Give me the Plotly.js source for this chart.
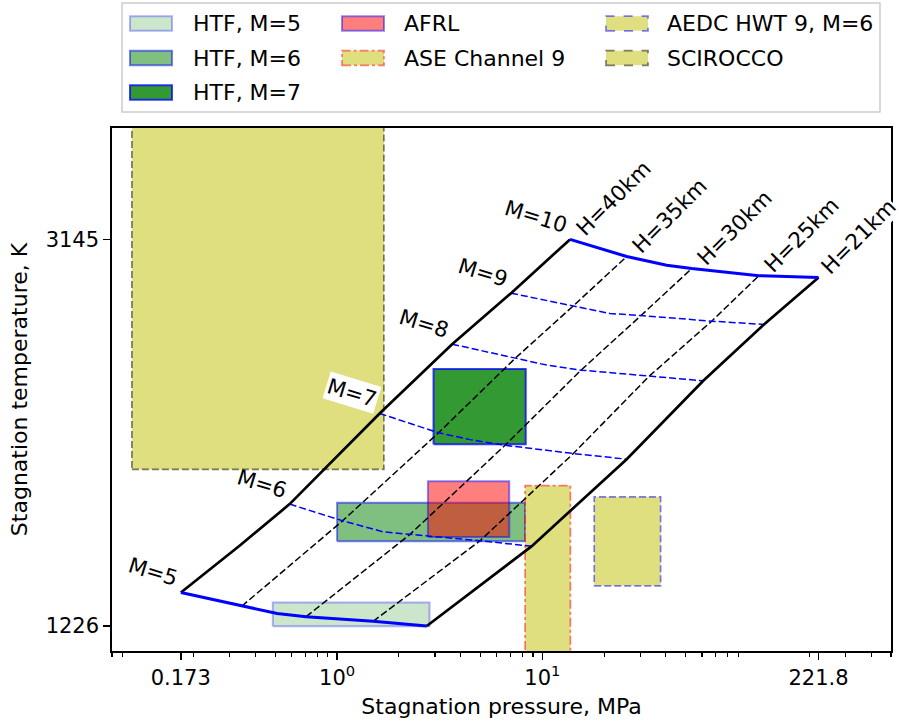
<!DOCTYPE html>
<html><head><meta charset="utf-8">
<script src="https://cdn.plot.ly/plotly-3.0.1.min.js"></script>
<style>html,body{margin:0;padding:0;background:#fff;} #chart{width:899px;height:723px;}</style>
</head><body><div id="chart"></div>
<script>
// ---------- DATA (stagnation pressure in MPa, stagnation temperature in K) ----------
// Altitude lines (points at M=5 ... M=10; boundary lines also carry an M=5.5 point)
const pressH40 = [0.1733, 0.337, 0.587, 1.611, 3.633, 7.04, 13.64];
const tempH40  = [1392, 1627, 1831, 2281, 2625, 2878, 3145];
const pressH35 = [0.343, 1.064, 3.121, 7.362, 14.16, 25.77];
const tempH35  = [1324, 1748, 2185, 2554, 2815, 3060];
const pressH30 = [0.706, 2.268, 6.58, 15.44, 30.26, 53.43];
const tempH30  = [1272, 1681, 2123, 2496, 2767, 3000];
const pressH25 = [1.497, 4.971, 14.16, 33.10, 66.87, 113.6];
const tempH25  = [1249, 1649, 2082, 2465, 2739, 2965];
const pressH21 = [2.735, 5.159, 8.88, 25.77, 60.84, 120.2, 221.8];
const tempH21  = [1226, 1437, 1622, 2054, 2443, 2723, 2956];

// Mach lines (points at H=40, 35, 32, 30, 25, 21 km)
const pressM5  = [0.1733, 0.343, 0.510, 0.706, 1.497, 2.735];
const tempM5   = [1392, 1324, 1288, 1272, 1249, 1226];
const pressM6  = [0.587, 1.064, 1.681, 2.268, 4.971, 8.88];
const tempM6   = [1831, 1748, 1693, 1681, 1649, 1622];
const pressM7  = [1.611, 3.121, 4.444, 6.58, 14.16, 25.77];
const tempM7   = [2281, 2185, 2151, 2123, 2082, 2054];
const pressM8  = [3.633, 7.362, 10.50, 15.44, 33.10, 60.84];
const tempM8   = [2625, 2554, 2521, 2496, 2465, 2443];
const pressM9  = [7.04, 14.16, 21.37, 30.26, 66.87, 120.2];
const tempM9   = [2878, 2815, 2777, 2767, 2739, 2723];
const pressM10 = [13.64, 25.77, 40.36, 53.43, 113.6, 221.8];
const tempM10  = [3145, 3060, 3017, 3000, 2965, 2956];

const machLabels = ['M=5', 'M=6', 'M=7', 'M=8', 'M=9', 'M=10'];
const altLabels  = ['H=40km', 'H=35km', 'H=30km', 'H=25km', 'H=21km'];

// Facility envelopes: [pMin, pMax], [TMin, TMax]
const facilityNames = ['HTF, M=5', 'HTF, M=6', 'HTF, M=7', 'AFRL', 'ASE Channel 9', 'AEDC HWT 9, M=6', 'SCIROCCO'];
const htf5P = [0.486, 2.82],  htf5T = [1225, 1342];
const htf6P = [1.0, 8.24],    htf6T = [1647, 1838];
const htf7P = [2.95, 8.3],    htf7T = [2128, 2501];
const afrlP = [2.77, 6.9],    afrlT = [1668, 1945];
const aseP  = [8.24, 13.7],   aseT  = [1000, 1923];
const aedcP = [17.9, 37.7],   aedcT = [1425, 1867];
const sciP  = [0.1, 1.69],    sciT  = [2003, 4000];

const xTickVals = [0.173, 1, 10, 221.8];
const xTickText = ['0.173', '10<sup>0</sup>', '10<sup>1</sup>', '221.8'];
const xMinorVals = [0.08,0.09,0.2,0.3,0.4,0.5,0.6,0.7,0.8,0.9,2,3,4,5,6,7,8,9,20,30,40,50,60,70,80,90,200,300,400,500];
const yTickVals = [1226, 3145];

// ---------- STYLES ----------
const OLIVE = 'rgba(191,191,0,0.5)';
const DASH = '7px,3px';
const facilityStyles = [
  {fill:'rgba(0,128,0,0.2)', line:'rgba(0,0,255,0.3)', dash:'solid', w:2},
  {fill:'rgba(0,128,0,0.5)', line:'rgba(0,0,255,0.5)', dash:'solid', w:2},
  {fill:'rgba(0,128,0,0.8)', line:'rgba(0,0,255,0.75)', dash:'solid', w:2},
  {fill:'rgba(255,0,0,0.5)', line:'rgba(0,0,255,0.45)', dash:'solid', w:2},
  {fill:OLIVE, line:'rgba(255,0,0,0.5)', dash:'dashdot', w:1.7},
  {fill:OLIVE, line:'rgba(0,0,255,0.5)', dash:DASH, w:1.7},
  {fill:OLIVE, line:'rgba(0,0,0,0.5)', dash:DASH, w:1.7}
];
const facilityData = [[htf5P,htf5T],[htf6P,htf6T],[htf7P,htf7T],[afrlP,afrlT],[aseP,aseT],[aedcP,aedcT],[sciP,sciT]];

const traces = [];
facilityData.forEach((d, i) => {
  const [p, t] = d, s = facilityStyles[i];
  traces.push({
    type:'scatter', mode:'lines', name: facilityNames[i], showlegend:false, hoverinfo:'skip',
    x:[p[0], p[1], p[1], p[0], p[0]], y:[t[0], t[0], t[1], t[1], t[0]],
    fill:'toself', fillcolor:s.fill, line:{color:s.line, width:s.w, dash:s.dash}
  });
});

function line(x, y, color, width, dash) {
  return {type:'scatter', mode:'lines', x, y, showlegend:false, hoverinfo:'skip',
          line:{color, width, dash, shape:'linear'}};
}
// interior dashed lines
[[pressH35,tempH35],[pressH30,tempH30],[pressH25,tempH25]].forEach(a => traces.push(line(a[0], a[1], '#000', 1.5, DASH)));
[[pressM6,tempM6],[pressM7,tempM7],[pressM8,tempM8],[pressM9,tempM9]].forEach(a => traces.push(line(a[0], a[1], '#0000ff', 1.5, DASH)));
// envelope
traces.push(line(pressH40, tempH40, '#000', 2.7, 'solid'));
traces.push(line(pressH21, tempH21, '#000', 2.7, 'solid'));
traces.push(line(pressM5, tempM5, '#0000ff', 3, 'solid'));
traces.push(line(pressM10, tempM10, '#0000ff', 3, 'solid'));

// ---------- ANNOTATIONS ----------
const FONT = 'DejaVu Sans';
const FS = 21.5;
const L = Math.log10;
const annotations = [];
const machLines = [[pressM5,tempM5],[pressM6,tempM6],[pressM7,tempM7],[pressM8,tempM8],[pressM9,tempM9],[pressM10,tempM10]];
machLines.forEach((m, i) => {
  annotations.push({
    x: L(m[0][0]), y: m[1][0], xref:'x', yref:'y', text: machLabels[i], showarrow:false,
    xanchor:'center', yanchor:'middle', textangle:17,
    xshift: i === 5 ? -34 : -28, yshift: i === 5 ? 23 : 21,
    font:{family:FONT, size:FS, color:'#000'},
    bgcolor: i === 2 ? '#ffffff' : 'rgba(0,0,0,0)', borderpad: 1
  });
});
const altLines = [[pressH40,tempH40],[pressH35,tempH35],[pressH30,tempH30],[pressH25,tempH25],[pressH21,tempH21]];
altLines.forEach((h, i) => {
  const n = h[0].length - 1;
  annotations.push({
    x: L(h[0][n]), y: h[1][n], xref:'x', yref:'y', text: altLabels[i], showarrow:false,
    xanchor:'center', yanchor:'middle', textangle:-45, xshift: i === 4 ? 40 : 43, yshift: 41,
    font:{family:FONT, size:FS, color:'#000'},
    bgcolor: i === 4 ? '#ffffff' : 'rgba(0,0,0,0)', borderpad: 0
  });
});

// ---------- MANUAL LEGEND (matplotlib-style, 3 columns) ----------
const PL = 112, PT = 128, PW = 779, PH = 523;
const px = v => (v - PL) / PW;
const py = v => (PT + PH - v) / PH;
const shapes = [];
shapes.push({type:'rect', xref:'paper', yref:'paper', x0:px(122), x1:px(880), y0:py(3), y1:py(112),
             fillcolor:'rgba(255,255,255,0.8)', line:{color:'#cccccc', width:1.5}, layer:'above'});
const colPatchX = [130, 342, 606];
const colTextX  = [191, 402, 665];
const rowY = [23.5, 58, 92.5];
const legendPos = [[0,0],[0,1],[0,2],[1,0],[1,1],[2,0],[2,1]];
facilityNames.forEach((name, i) => {
  const [c, r] = legendPos[i], s = facilityStyles[i];
  shapes.push({type:'rect', xref:'paper', yref:'paper', layer:'above',
    x0:px(colPatchX[c]), x1:px(colPatchX[c] + 42), y0:py(rowY[r] + 7.3), y1:py(rowY[r] - 7.3),
    fillcolor:s.fill, line:{color:s.line, width:s.w, dash: s.dash === DASH ? 'dash' : s.dash}});
  annotations.push({xref:'paper', yref:'paper', x:px(colTextX[c]), y:py(rowY[r]), text:name, showarrow:false,
    xanchor:'left', yanchor:'middle', font:{family:FONT, size:22, color:'#000'}});
});

const axisCommon = {showline:true, mirror:true, linecolor:'#000', linewidth:1.7, showgrid:false, zeroline:false,
                    ticks:'outside', ticklen:7, tickwidth:1.6, tickcolor:'#000',
                    tickfont:{family:FONT, size:21, color:'#000'}};
const layout = {
  width:899, height:723, margin:{l:PL, r:899-PL-PW, t:PT, b:723-PT-PH},
  paper_bgcolor:'#fff', plot_bgcolor:'#fff', showlegend:false,
  font:{family:FONT, size:FS, color:'#000'},
  xaxis: Object.assign({}, axisCommon, {
    type:'log', range:[L(0.08), L(500)], tickmode:'array', tickvals:xTickVals, ticktext:xTickText,
    minor:{tickmode:'array', tickvals:xMinorVals, ticks:'outside', ticklen:4, tickwidth:1.2, tickcolor:'#000', showgrid:false},
    title:{text:'Stagnation pressure, MPa', font:{family:FONT, size:22, color:'#000'}, standoff:10}, automargin:false
  }),
  yaxis: Object.assign({}, axisCommon, {
    range:[1101.7, 3698], tickmode:'array', tickvals:yTickVals, ticktext:yTickVals.map(String),
    title:{text:'Stagnation temperature, K', font:{family:FONT, size:22, color:'#000'}, standoff:12}, automargin:false
  }),
  annotations, shapes
};
Plotly.newPlot('chart', traces, layout, {staticPlot:true, displayModeBar:false});
</script></body></html>
